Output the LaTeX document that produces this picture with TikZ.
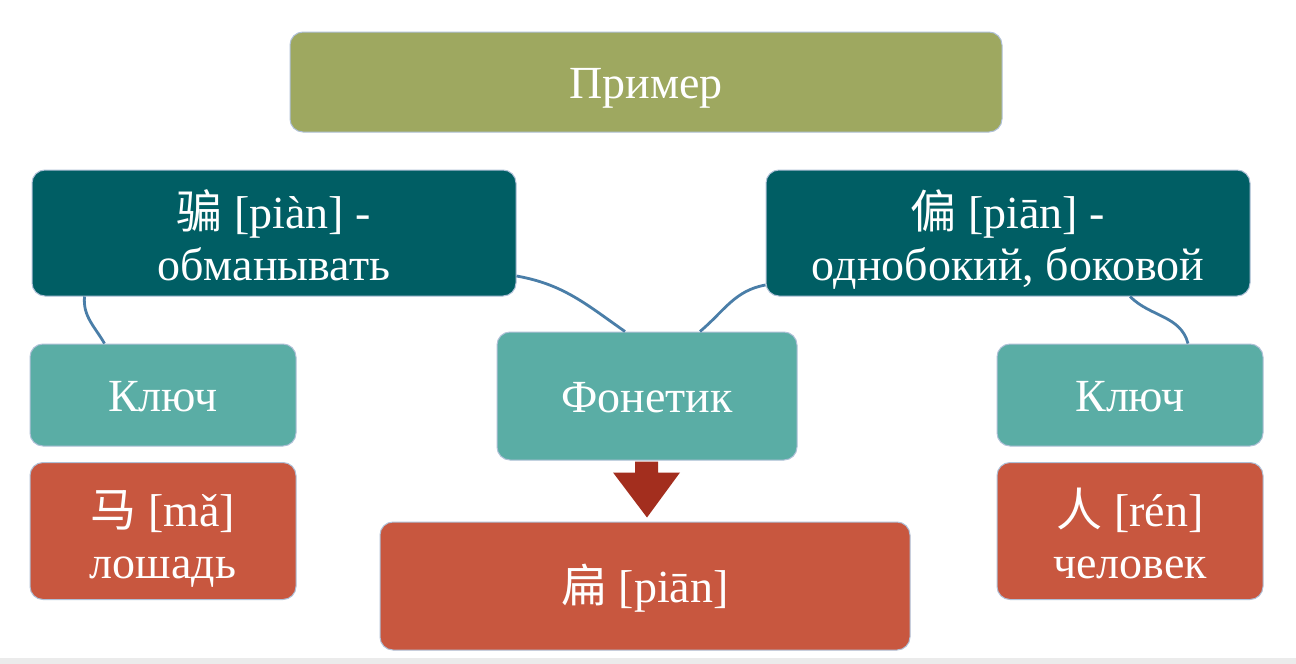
\documentclass[tikz,border=0pt]{standalone}
\usepackage{fontspec}
\setmainfont{Liberation Serif}
\newfontfamily\cjk{Noto Sans CJK SC}
\usetikzlibrary{calc}
\definecolor{olivebox}{RGB}{158,168,96}
\definecolor{darkteal}{RGB}{0,94,100}
\definecolor{lightteal}{RGB}{90,173,165}
\definecolor{brick}{RGB}{200,87,63}
\definecolor{arrowred}{RGB}{163,46,30}
\definecolor{linkblue}{RGB}{74,126,168}
\definecolor{edgeline}{RGB}{175,192,215}
\tikzset{
  box/.style={rectangle, rounded corners=13pt, draw=edgeline, line width=1pt,
    text=white, align=center, inner sep=0pt,
    font=\fontsize{46}{52}\selectfont,
    text height=45pt, text depth=12pt},
  twoline/.style={text height=100pt, text depth=6pt},
  link/.style={draw=linkblue, line width=2.8pt},
}
\begin{document}
\begin{tikzpicture}[x=1pt,y=-1pt]
\useasboundingbox (0,0) rectangle (1296,664);
\fill[white] (0,0) rectangle (1296,664);
\fill[black!8] (0,658) rectangle (1296,664);

\node[box, fill=olivebox, minimum width=712pt, minimum height=100pt] (top) at (646,82) {Пример};
\node[box, twoline, fill=darkteal, minimum width=484pt, minimum height=126pt] (L1) at (274,233) {{\cjk 骗} [piàn] -\\обманывать};
\node[box, twoline, fill=darkteal, minimum width=484pt, minimum height=126pt] (R1) at (1008,233) {{\cjk 偏} [piān] -\\однобокий, боковой};
\node[box, fill=lightteal, minimum width=266pt, minimum height=102pt] (K1) at (163,395) {Ключ};
\node[box, fill=lightteal, minimum width=300pt, minimum height=128pt] (F) at (647,396) {Фонетик};
\node[box, fill=lightteal, minimum width=266pt, minimum height=102pt] (K2) at (1130,395) {Ключ};
\node[box, twoline, fill=brick, minimum width=266pt, minimum height=137pt] (M) at (163,531) {{\cjk 马} [mǎ]\\лошадь};
\node[box, fill=brick, minimum width=530pt, minimum height=128pt] (P) at (645,586) {{\cjk 扁} [piān]};
\node[box, twoline, fill=brick, minimum width=266pt, minimum height=137pt] (Rn) at (1130,531) {{\cjk 人} [rén]\\человек};

\draw[link] ([xshift=53pt]L1.south west) to[out=-95,in=120] ([xshift=75pt]K1.north west);
\draw[link] ([yshift=-43pt]L1.east) to[out=-10,in=145] ([xshift=-22pt]F.north);
\draw[link] ([yshift=-52pt]R1.west) to[out=190,in=40] ([xshift=53pt]F.north);
\draw[link] ([xshift=122pt]R1.south) to[out=-45,in=105] ([xshift=58pt]K2.north);

\fill[arrowred] ($(F.south)+(-12,1)$) -- ($(F.south)+(11,1)$) -- ($(F.south)+(11,12)$)
  -- ($(F.south)+(33,12)$) -- ($(P.north)+(2,-4)$) -- ($(F.south)+(-34,12)$)
  -- ($(F.south)+(-12,12)$) -- cycle;
\end{tikzpicture}
\end{document}
